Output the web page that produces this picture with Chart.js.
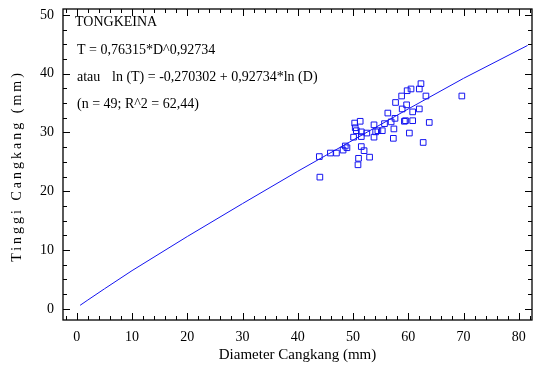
<!DOCTYPE html>
<html>
<head>
<meta charset="utf-8">
<script src="https://cdn.jsdelivr.net/npm/chart.js@4"></script>
<style>
  html, body { margin: 0; padding: 0; background: #fff; }
  #wrap { width: 545px; height: 369px; }
</style>
</head>
<body>
<div id="wrap"><canvas id="chart"></canvas></div>
<script>
// diameter (mm) and height (mm) of the 49 shells
const diameter = [62.3, 62.0, 60.5, 59.8, 58.8, 63.2, 69.7, 57.7, 59.7, 58.9,
  56.3, 60.8, 62.0, 57.6, 59.5, 59.3, 60.8, 63.8, 51.3, 53.8,
  55.7, 56.9, 50.4, 50.6, 51.5, 52.5, 54.1, 54.5, 55.3, 57.4,
  50.1, 51.5, 53.8, 57.3, 60.2, 62.7, 48.6, 48.9, 48.2, 47.0,
  45.9, 43.9, 51.5, 52.0, 51.0, 50.9, 53.0, 44.0, 50.3];
const height = [38.3, 37.4, 37.4, 37.1, 36.2, 36.2, 36.2, 35.1, 34.7, 34.0,
  33.3, 33.5, 34.0, 32.4, 32.0, 31.9, 32.0, 31.7, 31.9, 31.3,
  31.5, 31.8, 30.8, 30.3, 30.1, 29.9, 30.1, 30.3, 30.3, 30.6,
  29.2, 29.3, 29.2, 29.0, 29.9, 28.3, 27.7, 27.4, 27.0, 26.5,
  26.5, 25.9, 27.6, 26.9, 25.6, 24.5, 25.8, 22.4, 31.6];

// fitted curve T = 0,76315*D^0,92734
const fitD = [0.6, 2, 5, 10, 20, 30, 40, 50, 60, 70, 81.6];
const fitT = [0.6, 1.5, 3.4, 6.5, 12.3, 17.9, 23.4, 28.7, 34.0, 39.2, 44.8];

const xTicks = [0, 10, 20, 30, 40, 50, 60, 70, 80];
const yTicks = [0, 10, 20, 30, 40, 50];

const notes = [
  'TONGKEINA',
  'T = 0,76315*D^0,92734',
  'atau',
  'ln (T) = -0,270302 + 0,92734*ln (D)',
  '(n = 49; R^2 = 62,44)'
];

const blue = '#1414f0';
const serif = '"Liberation Serif", "Times New Roman", serif';

const frame = {
  id: 'frame',
  afterDraw(chart) {
    const { ctx, chartArea: a, scales: { x, y } } = chart;
    ctx.save();
    ctx.strokeStyle = '#000';
    ctx.lineWidth = 1.3;
    ctx.strokeRect(a.left, a.top, a.right - a.left, a.bottom - a.top);

    ctx.lineWidth = 1;
    ctx.beginPath();
    for (let v = -2; v <= 82; v += 2) {
      const px = Math.round(x.getPixelForValue(v)) + 0.5;
      const len = v % 10 === 0 ? 7 : 4;
      ctx.moveTo(px, a.bottom); ctx.lineTo(px, a.bottom - len);
      ctx.moveTo(px, a.top); ctx.lineTo(px, a.top + len);
    }
    for (let v = 0; v <= 50; v += 2.5) {
      const py = Math.round(y.getPixelForValue(v)) + 0.5;
      const len = v % 10 === 0 ? 7 : 4;
      ctx.moveTo(a.left, py); ctx.lineTo(a.left + len, py);
      ctx.moveTo(a.right, py); ctx.lineTo(a.right - len, py);
    }
    ctx.stroke();

    // text block
    ctx.fillStyle = '#000';
    ctx.font = '14px ' + serif;
    ctx.textBaseline = 'middle';
    ctx.fillText(notes[0], 75, 22);
    ctx.fillText(notes[1], 77, 50);
    ctx.fillText(notes[2], 77, 77);
    ctx.fillText(notes[3], 112, 77);
    ctx.fillText(notes[4], 77, 104);

    // y title, spaced out
    ctx.translate(17, 166);
    ctx.rotate(-Math.PI / 2);
    ctx.letterSpacing = '3px';
    ctx.textAlign = 'center';
    ctx.fillText('Tinggi Cangkang (mm)', 0, 0);
    ctx.restore();
  }
};

new Chart(document.getElementById('chart'), {
  data: {
    datasets: [
      {
        type: 'line',
        data: fitD.map((d, i) => ({ x: d, y: fitT[i] })),
        borderColor: blue,
        borderWidth: 1,
        pointRadius: 0,
        fill: false,
        tension: 0
      },
      {
        type: 'scatter',
        data: diameter.map((d, i) => ({ x: d, y: height[i] })),
        pointStyle: 'rect',
        pointRadius: 4,
        borderColor: blue,
        borderWidth: 1,
        backgroundColor: 'rgba(0,0,0,0)'
      }
    ]
  },
  options: {
    responsive: true,
    maintainAspectRatio: false,
    animation: false,
    layout: { padding: { top: 9, right: 13, left: 0, bottom: 0 } },
    plugins: { legend: { display: false }, tooltip: { enabled: false } },
    scales: {
      x: {
        type: 'linear',
        min: -2.5,
        max: 82.4,
        afterBuildTicks: s => { s.ticks = xTicks.map(v => ({ value: v })); },
        afterFit: s => { s.height = 49; s.paddingLeft = 0; s.paddingRight = 0; },
        grid: { display: false, drawTicks: false },
        border: { display: false },
        ticks: { color: '#000', padding: 9, font: { family: serif, size: 14 } },
        title: {
          display: true,
          text: 'Diameter Cangkang (mm)',
          color: '#000',
          font: { family: serif, size: 15 },
          padding: { top: 0, bottom: 5 }
        }
      },
      y: {
        type: 'linear',
        min: -1.9,
        max: 51,
        afterBuildTicks: s => { s.ticks = yTicks.map(v => ({ value: v })); },
        afterFit: s => { s.width = 63; s.paddingTop = 0; s.paddingBottom = 0; },
        grid: { display: false, drawTicks: false },
        border: { display: false },
        ticks: { color: '#000', padding: 9, font: { family: serif, size: 14 } }
      }
    }
  },
  plugins: [frame]
});
</script>
</body>
</html>
